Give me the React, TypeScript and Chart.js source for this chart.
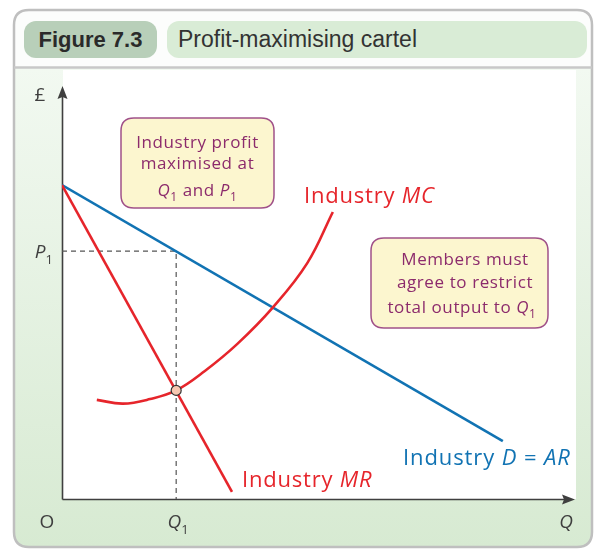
import React, { useEffect, useRef } from "react";
import { Chart, registerables } from "chart.js";

Chart.register(...registerables);

// Quantity (x) and price (y) values (arbitrary units 0..10)
const AR_Q = [0, 8.61];
const AR_P = [7.6, 1.4];
const MR_Q = [0, 3.32];
const MR_P = [7.6, 0.17];
const MC_Q = [0.68, 1.19, 1.72, 2.23, 2.79, 3.42, 4.12, 4.79, 5.29];
const MC_P = [2.4, 2.31, 2.42, 2.63, 3.1, 3.75, 4.64, 5.71, 6.95];
const Q1 = 2.23;
const P1 = 6.0;
const MC_AT_Q1 = 2.63;

const FIG_NUMBER = "Figure 7.3";
const FIG_TITLE = "Profit-maximising cartel";

const SANS = "'Open Sans', 'Noto Sans', sans-serif";
const RED = "#e6252b";
const BLUE = "#1173b3";
const PURPLE = "#8c2b6c";
const GREY = "#3f3f3f";

type Part = { t: string; i?: boolean; sub?: boolean };

function drawRich(
  ctx: CanvasRenderingContext2D,
  parts: Part[],
  x: number,
  y: number,
  align: "left" | "center" | "right",
  size: number,
  color: string,
  spacing = 0
) {
  const fontOf = (p: Part) =>
    `${p.i ? "italic " : ""}${p.sub ? Math.round(size * 0.68) : size}px ${SANS}`;
  ctx.save();
  (ctx as any).letterSpacing = `${spacing}px`;
  ctx.textBaseline = "alphabetic";
  ctx.textAlign = "left";
  ctx.fillStyle = color;
  const widths = parts.map((p) => {
    ctx.font = fontOf(p);
    return ctx.measureText(p.t).width;
  });
  const total = widths.reduce((a, b) => a + b, 0);
  let cx = align === "center" ? x - total / 2 : align === "right" ? x - total : x;
  parts.forEach((p, k) => {
    ctx.font = fontOf(p);
    ctx.fillText(p.t, cx, y + (p.sub ? size * 0.3 : 0));
    cx += widths[k];
  });
  ctx.restore();
}

function roundRect(ctx: CanvasRenderingContext2D, x: number, y: number, w: number, h: number, r: number) {
  ctx.beginPath();
  ctx.moveTo(x + r, y);
  ctx.lineTo(x + w - r, y);
  ctx.quadraticCurveTo(x + w, y, x + w, y + r);
  ctx.lineTo(x + w, y + h - r);
  ctx.quadraticCurveTo(x + w, y + h, x + w - r, y + h);
  ctx.lineTo(x + r, y + h);
  ctx.quadraticCurveTo(x, y + h, x, y + h - r);
  ctx.lineTo(x, y + r);
  ctx.quadraticCurveTo(x, y, x + r, y);
  ctx.closePath();
}

const decorPlugin = {
  id: "decor",
  beforeDraw(chart: any) {
    const ctx: CanvasRenderingContext2D = chart.ctx;
    const a = chart.chartArea;
    ctx.save();
    // outer frame
    roundRect(ctx, 14, 10, 578, 537, 15);
    ctx.fillStyle = "#fcfdfc";
    ctx.fill();
    ctx.save();
    ctx.clip();
    const g = ctx.createLinearGradient(0, 68, 0, 547);
    g.addColorStop(0, "#f2f9f1");
    g.addColorStop(1, "#d7ead2");
    ctx.fillStyle = g;
    ctx.fillRect(14, 68, 578, 480);
    ctx.restore();
    roundRect(ctx, 14, 10, 578, 537, 15);
    ctx.strokeStyle = "#bfbfbf";
    ctx.lineWidth = 2.5;
    ctx.stroke();
    // header separator
    ctx.beginPath();
    ctx.moveTo(14, 67.5);
    ctx.lineTo(592, 67.5);
    ctx.strokeStyle = "#c8c8c8";
    ctx.lineWidth = 2.5;
    ctx.stroke();
    // white plot panel
    ctx.fillStyle = "#ffffff";
    ctx.fillRect(a.left + 1, 70, a.right + 1 - a.left, a.bottom - 70);
    ctx.restore();
  },
  beforeDatasetsDraw(chart: any) {
    const ctx: CanvasRenderingContext2D = chart.ctx;
    const a = chart.chartArea;
    const x0 = Math.round(a.left) + 0.5;
    const y0 = Math.round(a.bottom) + 0.5;
    ctx.save();
    ctx.strokeStyle = GREY;
    ctx.fillStyle = GREY;
    ctx.lineWidth = 1.6;
    ctx.beginPath();
    ctx.moveTo(x0, y0);
    ctx.lineTo(x0, a.top + 10);
    ctx.moveTo(x0, y0);
    ctx.lineTo(a.right - 10, y0);
    ctx.stroke();
    // arrowheads
    ctx.beginPath();
    ctx.moveTo(x0, a.top);
    ctx.lineTo(x0 + 5, a.top + 13);
    ctx.lineTo(x0, a.top + 11);
    ctx.lineTo(x0 - 5, a.top + 13);
    ctx.closePath();
    ctx.fill();
    ctx.beginPath();
    ctx.moveTo(a.right + 1, y0);
    ctx.lineTo(a.right - 12, y0 - 5);
    ctx.lineTo(a.right - 10, y0);
    ctx.lineTo(a.right - 12, y0 + 5);
    ctx.closePath();
    ctx.fill();
    ctx.restore();
  },
  afterDraw(chart: any) {
    const ctx: CanvasRenderingContext2D = chart.ctx;
    const xs = chart.scales.x;
    const ys = chart.scales.y;
    const a = chart.chartArea;
    // axis labels
    drawRich(ctx, [{ t: "£" }], a.left - 22, 101, "center", 19, GREY);
    drawRich(ctx, [{ t: "P", i: true }, { t: "1", sub: true }], a.left - 9, ys.getPixelForValue(P1) + 7, "right", 19, GREY);
    drawRich(ctx, [{ t: "O" }], a.left - 15, 528, "center", 19, GREY);
    drawRich(ctx, [{ t: "Q", i: true }, { t: "1", sub: true }], xs.getPixelForValue(Q1) + 2, 528, "center", 19, GREY);
    drawRich(ctx, [{ t: "Q", i: true }], a.right - 8, 528, "center", 19, GREY);

    // curve labels
    drawRich(ctx, [{ t: "Industry " }, { t: "MC", i: true }], 304, 203, "left", 22, RED, 0.8);
    drawRich(ctx, [{ t: "Industry " }, { t: "MR", i: true }], 242, 487, "left", 22, RED, 0.8);
    drawRich(ctx, [{ t: "Industry " }, { t: "D", i: true }, { t: " = " }, { t: "AR", i: true }], 403, 465, "left", 22, BLUE, 0.9);

    // annotation boxes
    ctx.save();
    roundRect(ctx, 121, 118, 153, 90, 13);
    ctx.fillStyle = "#fcf6cf";
    ctx.fill();
    ctx.strokeStyle = "#a05189";
    ctx.lineWidth = 1.5;
    ctx.stroke();
    roundRect(ctx, 371, 238, 177, 90, 13);
    ctx.fill();
    ctx.stroke();
    ctx.restore();

    drawRich(ctx, [{ t: "Industry profit" }], 197.5, 148, "center", 17, PURPLE, 0.6);
    drawRich(ctx, [{ t: "maximised at" }], 197.5, 169, "center", 17, PURPLE, 0.6);
    drawRich(
      ctx,
      [{ t: "Q", i: true }, { t: "1", sub: true }, { t: " and " }, { t: "P", i: true }, { t: "1", sub: true }],
      197.5,
      196,
      "center",
      17,
      PURPLE,
      0.6
    );
    drawRich(ctx, [{ t: "Members must" }], 465, 265, "center", 17, PURPLE, 0.6);
    drawRich(ctx, [{ t: "agree to restrict" }], 465, 288, "center", 17, PURPLE, 0.6);
    drawRich(ctx, [{ t: "total output to " }, { t: "Q", i: true }, { t: "1", sub: true }], 462, 313, "center", 17, PURPLE, 0.6);
  },
};

const zip = (xs: number[], ys: number[]) => xs.map((x, k) => ({ x, y: ys[k] }));

export default function App() {
  const ref = useRef<HTMLCanvasElement | null>(null);

  useEffect(() => {
    if (!ref.current) return;
    const chart = new Chart(ref.current, {
      type: "scatter",
      data: {
        datasets: [
          {
            data: [{ x: Q1, y: MC_AT_Q1 }],
            pointRadius: 5,
            pointBackgroundColor: "#f7c7b1",
            pointBorderColor: "#333333",
            pointBorderWidth: 1.2,
            showLine: false,
          },
          {
            data: zip(MC_Q, MC_P),
            showLine: true,
            borderColor: RED,
            borderWidth: 2.6,
            pointRadius: 0,
            tension: 0.4,
          },
          {
            data: zip(MR_Q, MR_P),
            showLine: true,
            borderColor: RED,
            borderWidth: 2.6,
            pointRadius: 0,
          },
          {
            data: zip(AR_Q, AR_P),
            showLine: true,
            borderColor: BLUE,
            borderWidth: 2.6,
            pointRadius: 0,
          },
          {
            data: [
              { x: 0, y: P1 },
              { x: Q1, y: P1 },
              { x: Q1, y: 0 },
            ],
            showLine: true,
            borderColor: "#555555",
            borderWidth: 1.2,
            borderDash: [5, 4],
            pointRadius: 0,
          },
        ],
      } as any,
      options: {
        animation: false,
        responsive: false,
        events: [],
        layout: { padding: { left: 62, top: 86, right: 21, bottom: 51 } },
        plugins: { legend: { display: false }, tooltip: { enabled: false } },
        scales: {
          x: { type: "linear", min: 0, max: 10, display: false },
          y: { type: "linear", min: 0, max: 10, display: false },
        },
      } as any,
      plugins: [decorPlugin],
    });
    return () => chart.destroy();
  }, []);

  const pill: React.CSSProperties = {
    position: "absolute",
    top: 21,
    height: 37,
    borderRadius: 12,
    display: "flex",
    alignItems: "center",
    fontFamily: "'Liberation Sans', Arial, sans-serif",
    whiteSpace: "nowrap",
  };

  return (
    <div style={{ position: "absolute", left: 0, top: 0, width: 595, height: 550, background: "#ffffff", overflow: "hidden" }}>
      <canvas ref={ref} width={595} height={550} style={{ position: "absolute", left: 0, top: 0, width: 595, height: 550 }} />
      <div
        style={{
          ...pill,
          left: 24,
          width: 133,
          background: "#b8cfb9",
          justifyContent: "center",
          fontWeight: 700,
          fontSize: 22,
          color: "#2a2a2a",
        }}
      >
        {FIG_NUMBER}
      </div>
      <div
        style={{
          ...pill,
          left: 167,
          width: 420,
          background: "#d9ecd6",
          paddingLeft: 11,
          boxSizing: "border-box",
          fontSize: 23,
          color: "#333333",
        }}
      >
        {FIG_TITLE}
      </div>
    </div>
  );
}
